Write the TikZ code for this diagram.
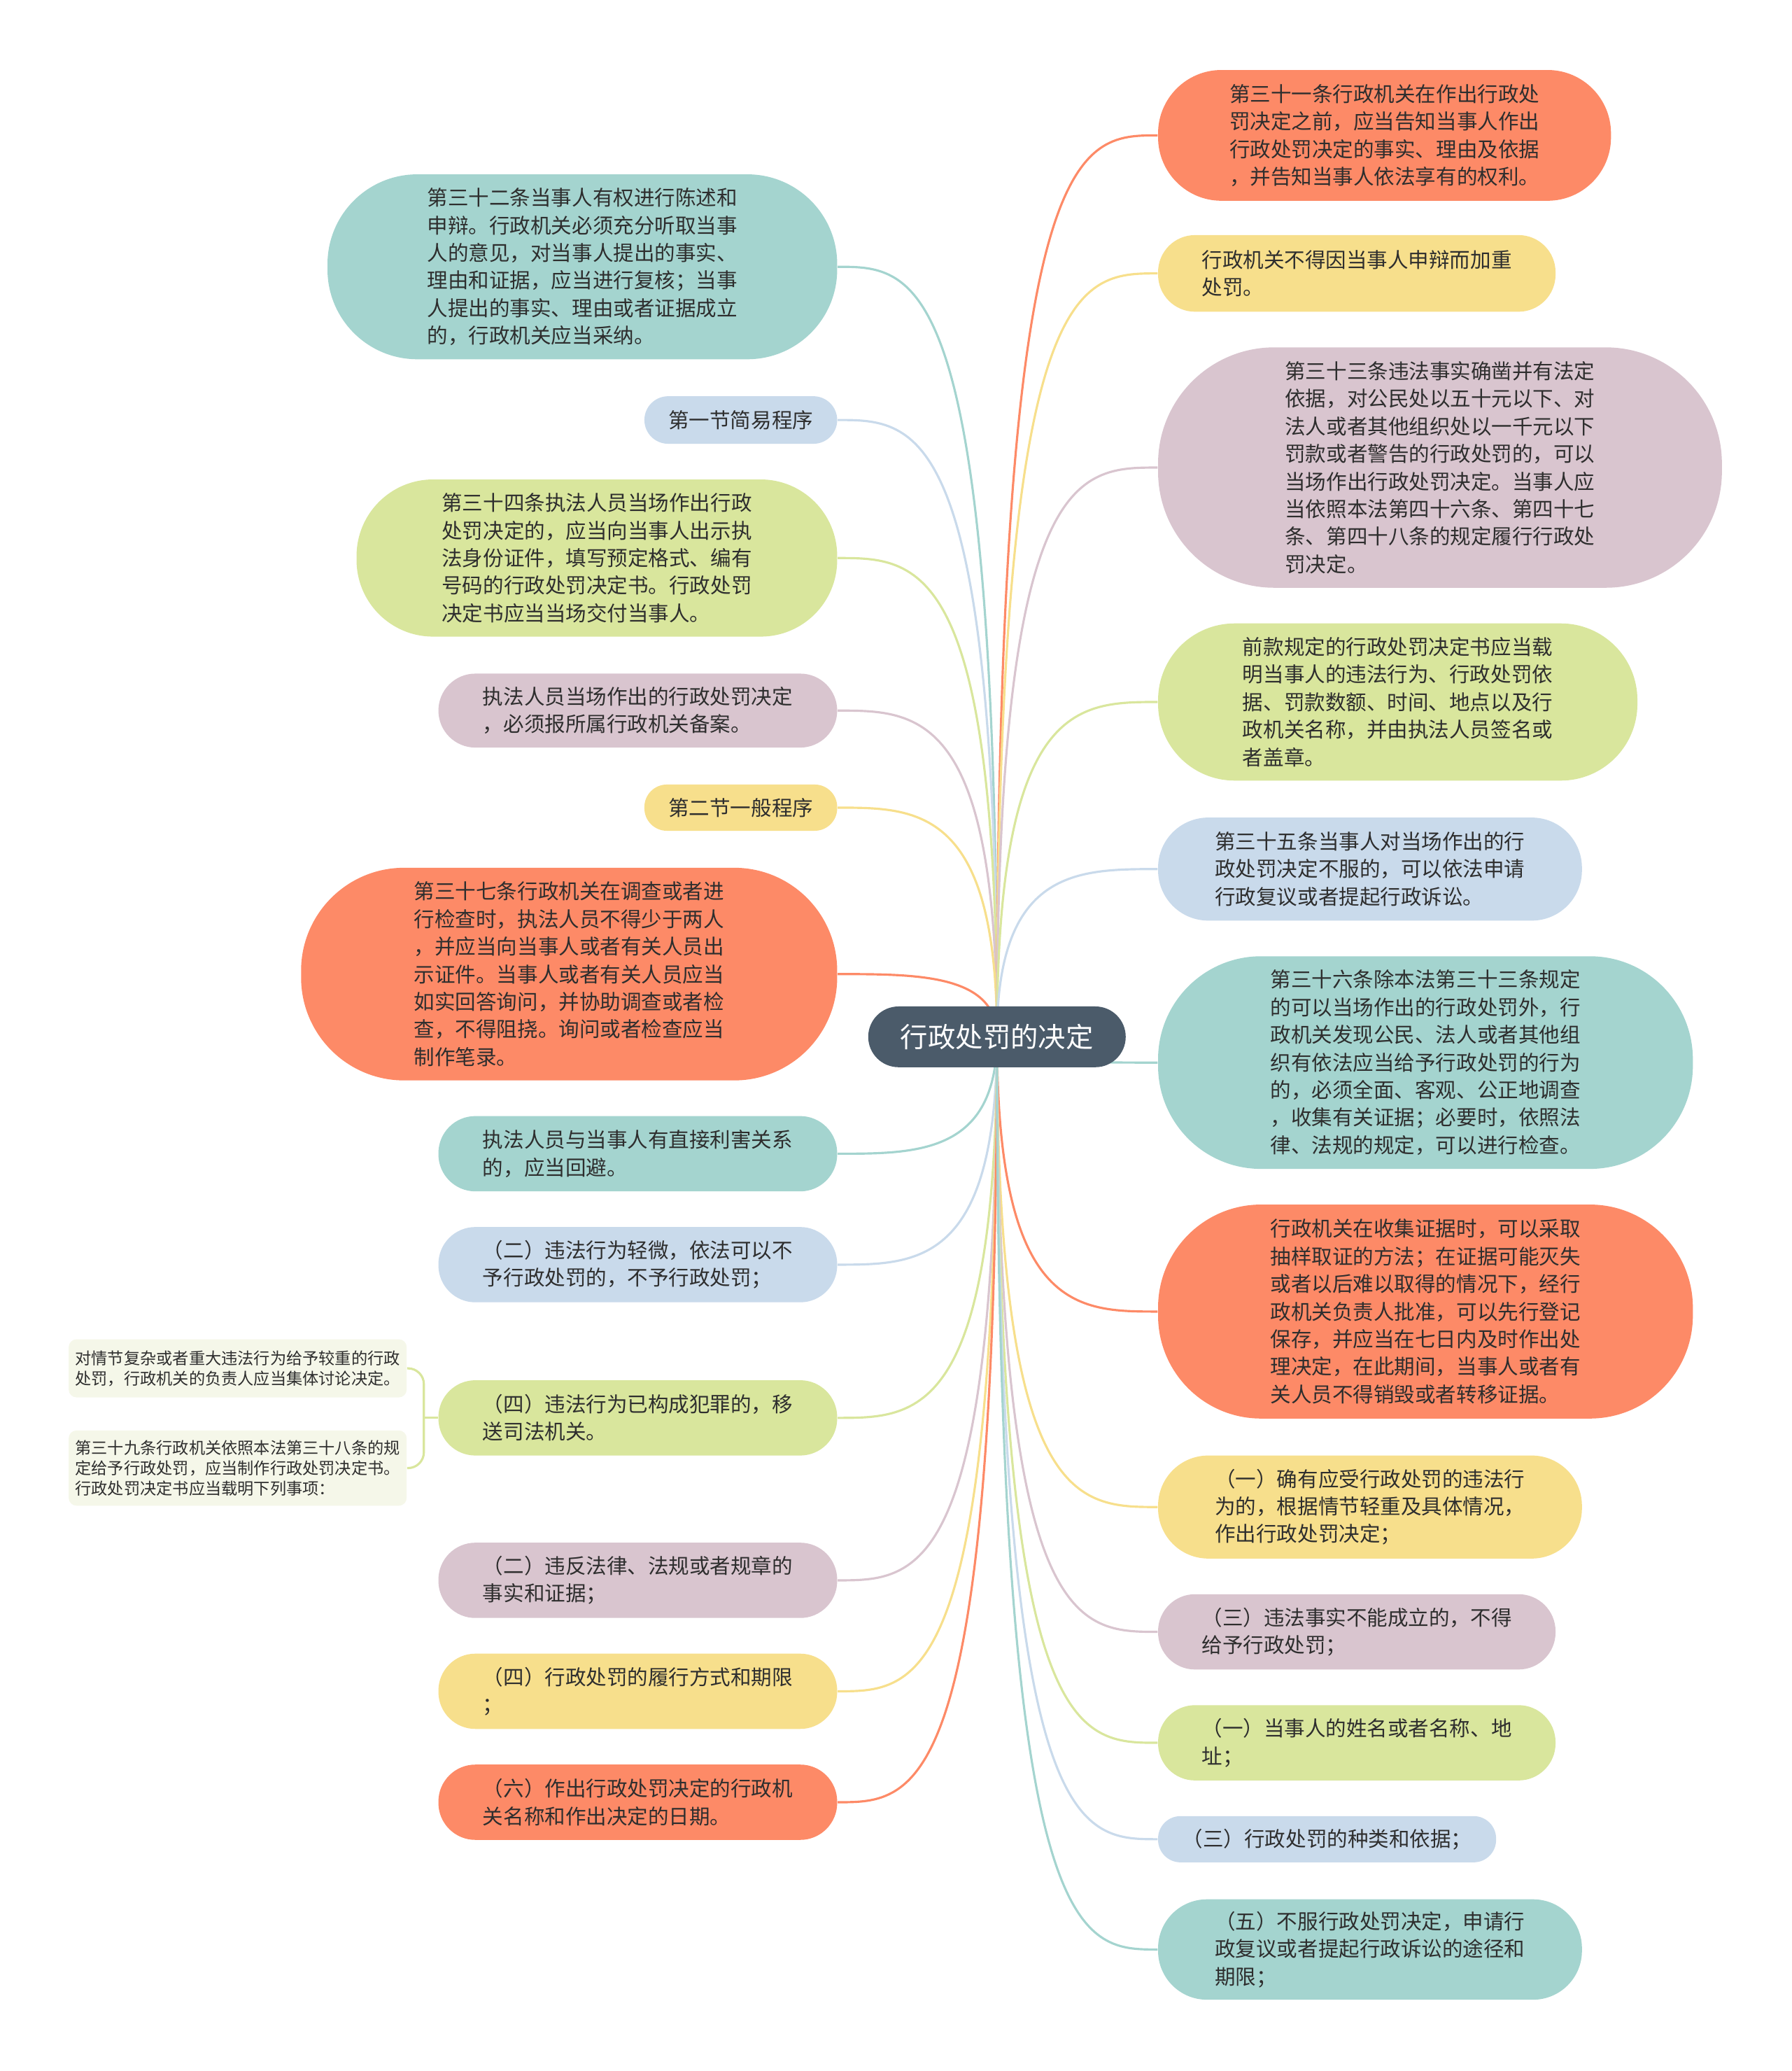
\documentclass[tikz,border=0pt]{standalone}
\usepackage{fontspec}
\setmainfont{Noto Sans CJK SC}
\usepackage{tikz}
\usetikzlibrary{calc,backgrounds}
\definecolor{cRoot}{HTML}{4B5B6A}
\definecolor{cTeal}{HTML}{A4D4CF}
\definecolor{cBlue}{HTML}{C9DAEB}
\definecolor{cGreen}{HTML}{D9E69D}
\definecolor{cMauve}{HTML}{D9C5CF}
\definecolor{cYellow}{HTML}{F7DF8C}
\definecolor{cOrange}{HTML}{FD8A67}
\definecolor{cNote}{HTML}{F5F7E9}
\definecolor{cInk}{HTML}{2E2E2E}
\newcommand{\dpx}{0.018866cm}
\tikzset{
  topic/.style={fill=cRoot, text=white, inner sep=0pt, rounded corners=23*\dpx, minimum width=195*\dpx, minimum height=46*\dpx, font=\fontsize{11.2}{13}\selectfont},
  leaf/.style={text=cInk, align=left, inner sep=0pt, font=\fontsize{8.4}{11.2}\selectfont},
  pill/.style n args={3}{minimum width=#1*\dpx, minimum height=#2*\dpx, rounded corners=#3*\dpx},
  note/.style={fill=cNote, text=cInk, align=left, inner sep=0pt, rounded corners=6*\dpx, font=\fontsize{6.6}{8.3}\selectfont},
  link/.style={draw=#1, line width=0.9pt, to path={let \p1=(\tikztostart), \p2=(\tikztotarget) in .. controls (\x1,\y2) and ({(\x1+\x2)/2},\y2) .. (\tikztotarget)}},
  brace/.style={draw=cGreen, line width=0.9pt, rounded corners=12*\dpx}
}
\begin{document}
\begin{tikzpicture}[x=0.018866cm, y=-0.018866cm]
\useasboundingbox (0,0) rectangle (1357,1568);
\node[topic] (root) at (755,785) {行政处罚的决定};
% left side
\node[leaf, fill=cTeal, pill={386}{140}{68}] (l1) at (441,202) {第三十二条当事人有权进行陈述和\\申辩。行政机关必须充分听取当事\\人的意见，对当事人提出的事实、\\理由和证据，应当进行复核；当事\\人提出的事实、理由或者证据成立\\的，行政机关应当采纳。};
\node[leaf, fill=cBlue, pill={146}{36}{18}] (l2) at (561,318) {第一节简易程序};
\node[leaf, fill=cGreen, pill={364}{119}{58}] (l3) at (452,422.5) {第三十四条执法人员当场作出行政\\处罚决定的，应当向当事人出示执\\法身份证件，填写预定格式、编有\\号码的行政处罚决定书。行政处罚\\决定书应当当场交付当事人。};
\node[leaf, fill=cMauve, pill={302}{56}{28}] (l4) at (483,538) {执法人员当场作出的行政处罚决定\\，必须报所属行政机关备案。};
\node[leaf, fill=cYellow, pill={146}{35}{17}] (l5) at (561,611.5) {第二节一般程序};
\node[leaf, fill=cOrange, pill={406}{161}{78}] (l6) at (431,737.5) {第三十七条行政机关在调查或者进\\行检查时，执法人员不得少于两人\\，并应当向当事人或者有关人员出\\示证件。当事人或者有关人员应当\\如实回答询问，并协助调查或者检\\查，不得阻挠。询问或者检查应当\\制作笔录。};
\node[leaf, fill=cTeal, pill={302}{57}{28}] (l7) at (483,873.5) {执法人员与当事人有直接利害关系\\的，应当回避。};
\node[leaf, fill=cBlue, pill={302}{57}{28}] (l8) at (483,957.5) {（二）违法行为轻微，依法可以不\\予行政处罚的，不予行政处罚；};
\node[leaf, fill=cGreen, pill={302}{57}{28}] (l9) at (483,1073.5) {（四）违法行为已构成犯罪的，移\\送司法机关。};
\node[leaf, fill=cMauve, pill={302}{57}{28}] (l10) at (483,1196.5) {（二）违反法律、法规或者规章的\\事实和证据；};
\node[leaf, fill=cYellow, pill={302}{57}{28}] (l11) at (483,1280.5) {（四）行政处罚的履行方式和期限\\；};
\node[leaf, fill=cOrange, pill={302}{57}{28}] (l12) at (483,1364.5) {（六）作出行政处罚决定的行政机\\关名称和作出决定的日期。};
% notes under l9
\node[note, minimum width=256*\dpx, minimum height=44*\dpx] (n1) at (180,1036) {对情节复杂或者重大违法行为给予较重的行政\\处罚，行政机关的负责人应当集体讨论决定。};
\node[note, minimum width=256*\dpx, minimum height=57*\dpx] (n2) at (180,1111.5) {第三十九条行政机关依照本法第三十八条的规\\定给予行政处罚，应当制作行政处罚决定书。\\行政处罚决定书应当载明下列事项：};
% right side
\node[leaf, fill=cOrange, pill={343}{99}{48}] (r1) at (1048.5,102.5) {第三十一条行政机关在作出行政处\\罚决定之前，应当告知当事人作出\\行政处罚决定的事实、理由及依据\\，并告知当事人依法享有的权利。};
\node[leaf, fill=cYellow, pill={301}{58}{28}] (r2) at (1027.5,207) {行政机关不得因当事人申辩而加重\\处罚。};
\node[leaf, fill=cMauve, pill={427}{182}{88}] (r3) at (1090.5,354) {第三十三条违法事实确凿并有法定\\依据，对公民处以五十元以下、对\\法人或者其他组织处以一千元以下\\罚款或者警告的行政处罚的，可以\\当场作出行政处罚决定。当事人应\\当依照本法第四十六条、第四十七\\条、第四十八条的规定履行行政处\\罚决定。};
\node[leaf, fill=cGreen, pill={363}{119}{58}] (r4) at (1058.5,531.5) {前款规定的行政处罚决定书应当载\\明当事人的违法行为、行政处罚依\\据、罚款数额、时间、地点以及行\\政机关名称，并由执法人员签名或\\者盖章。};
\node[leaf, fill=cBlue, pill={321}{78}{38}] (r5) at (1037.5,658) {第三十五条当事人对当场作出的行\\政处罚决定不服的，可以依法申请\\行政复议或者提起行政诉讼。};
\node[leaf, fill=cTeal, pill={405}{161}{78}] (r6) at (1079.5,804.5) {第三十六条除本法第三十三条规定\\的可以当场作出的行政处罚外，行\\政机关发现公民、法人或者其他组\\织有依法应当给予行政处罚的行为\\的，必须全面、客观、公正地调查\\，收集有关证据；必要时，依照法\\律、法规的规定，可以进行检查。};
\node[leaf, fill=cOrange, pill={405}{162}{78}] (r7) at (1079.5,993) {行政机关在收集证据时，可以采取\\抽样取证的方法；在证据可能灭失\\或者以后难以取得的情况下，经行\\政机关负责人批准，可以先行登记\\保存，并应当在七日内及时作出处\\理决定，在此期间，当事人或者有\\关人员不得销毁或者转移证据。};
\node[leaf, fill=cYellow, pill={321}{78}{38}] (r8) at (1037.5,1141) {（一）确有应受行政处罚的违法行\\为的，根据情节轻重及具体情况，\\作出行政处罚决定；};
\node[leaf, fill=cMauve, pill={301}{57}{28}] (r9) at (1027.5,1235.5) {（三）违法事实不能成立的，不得\\给予行政处罚；};
\node[leaf, fill=cGreen, pill={301}{57}{28}] (r10) at (1027.5,1319.5) {（一）当事人的姓名或者名称、地\\址；};
\node[leaf, fill=cBlue, pill={256}{35}{17}] (r11) at (1005,1392.5) {（三）行政处罚的种类和依据；};
\node[leaf, fill=cTeal, pill={321}{76}{37}] (r12) at (1037.5,1476) {（五）不服行政处罚决定，申请行\\政复议或者提起行政诉讼的途径和\\期限；};
\coordinate (brk) at (321,1073.5);
\begin{scope}[on background layer]
\draw[link=cTeal] (root.center) to (l1.east);
\draw[link=cBlue] (root.center) to (l2.east);
\draw[link=cGreen] (root.center) to (l3.east);
\draw[link=cMauve] (root.center) to (l4.east);
\draw[link=cYellow] (root.center) to (l5.east);
\draw[link=cOrange] (root.center) to (l6.east);
\draw[link=cTeal] (root.center) to (l7.east);
\draw[link=cBlue] (root.center) to (l8.east);
\draw[link=cGreen] (root.center) to (l9.east);
\draw[link=cMauve] (root.center) to (l10.east);
\draw[link=cYellow] (root.center) to (l11.east);
\draw[link=cOrange] (root.center) to (l12.east);
\draw[link=cOrange] (root.center) to (r1.west);
\draw[link=cYellow] (root.center) to (r2.west);
\draw[link=cMauve] (root.center) to (r3.west);
\draw[link=cGreen] (root.center) to (r4.west);
\draw[link=cBlue] (root.center) to (r5.west);
\draw[link=cTeal] (root.center) to (r6.west);
\draw[link=cOrange] (root.center) to (r7.west);
\draw[link=cYellow] (root.center) to (r8.west);
\draw[link=cMauve] (root.center) to (r9.west);
\draw[link=cGreen] (root.center) to (r10.west);
\draw[link=cBlue] (root.center) to (r11.west);
\draw[link=cTeal] (root.center) to (r12.west);
\end{scope}
% bracket to the notes
\draw[brace] (n1.east) -| (brk) |- (n2.east);
\draw[brace] (l9.west) -- (brk);
\end{tikzpicture}
\end{document}
